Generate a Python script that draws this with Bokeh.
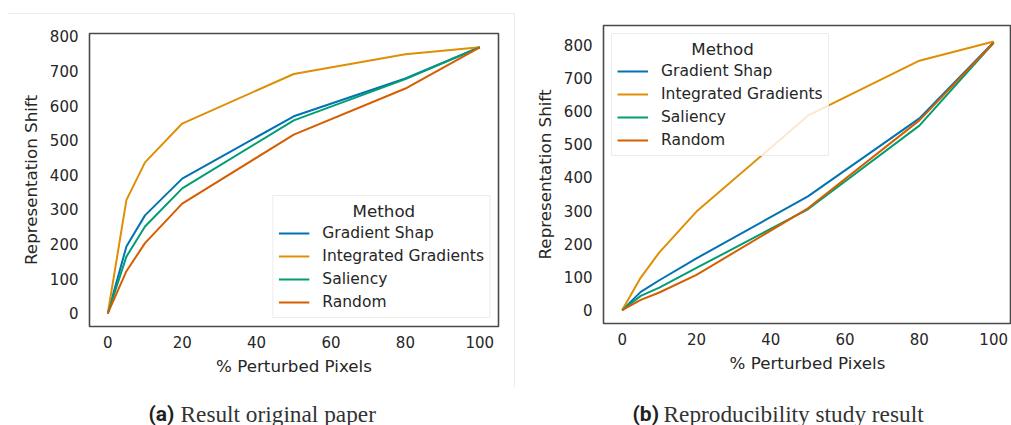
from bokeh.plotting import figure
from bokeh.layouts import row, column
from bokeh.models import Range1d, FixedTicker, Legend, LegendItem, Div
from bokeh.core.properties import value
from bokeh.embed import file_html
from bokeh.resources import INLINE

# ---------------- data ----------------
pct_perturbed = [0, 5, 10, 20, 50, 80, 100]
methods = ["Gradient Shap", "Integrated Gradients", "Saliency", "Random"]

# (a) Result original paper
gs_orig = [0, 193, 283, 389, 569, 678, 768]
ig_orig = [0, 327, 436, 548, 691, 748, 768]
sal_orig = [0, 164, 251, 361, 557, 676, 768]
rnd_orig = [0, 122, 203, 317, 516, 649, 768]

# (b) Reproducibility study result
gs_repro = [0, 55, 90, 156, 343, 578, 808]
ig_repro = [0, 98, 174, 297, 586, 752, 810]
sal_repro = [0, 43, 68, 127, 304, 556, 806]
rnd_repro = [0, 31, 53, 106, 307, 572, 806]

x_ticks = [0, 20, 40, 60, 80, 100]
y_ticks = [0, 100, 200, 300, 400, 500, 600, 700, 800]

legend_title = "Method"
captions_tag = ["(a)", "(b)"]
captions_text = ["Result original paper", "Reproducibility study result"]

# ---------------- style ----------------
colors = ["#0173b2", "#de8f05", "#029e73", "#d55e00"]
TXT = "#262626"
FRAME = "#4a4a4a"
FONT = "DejaVu Sans"
DIVIDER = "#ececec"
TITLE_PAD = "\u00a0" * 14   # centres the legend title over the entries


def make_fig(width, height, mb_left, mb_right, mb_top, mb_bottom, xr, yr, series,
             legend_loc):
    p = figure(width=width, height=height, output_backend="svg", toolbar_location=None,
               x_range=Range1d(*xr), y_range=Range1d(*yr), tools="")
    p.min_border_left = mb_left
    p.min_border_right = mb_right
    p.min_border_top = mb_top
    p.min_border_bottom = mb_bottom
    p.background_fill_color = "white"
    p.border_fill_color = "white"
    p.xgrid.visible = False
    p.ygrid.visible = False
    p.outline_line_color = FRAME
    p.outline_line_width = 1.6

    p.xaxis.ticker = FixedTicker(ticks=x_ticks)
    p.yaxis.ticker = FixedTicker(ticks=y_ticks)
    p.xaxis.axis_label = "% Perturbed Pixels"
    p.yaxis.axis_label = "Representation Shift"
    for ax, st, lst in ((p.xaxis, 9, 5), (p.yaxis, 11, 6)):
        ax.axis_line_color = None
        ax.major_tick_line_color = None
        ax.minor_tick_line_color = None
        ax.major_tick_out = 0
        ax.major_tick_in = 0
        ax.major_label_standoff = st
        ax.axis_label_standoff = lst
        ax.major_label_text_font = FONT
        ax.major_label_text_font_size = "15px"
        ax.major_label_text_color = TXT
        ax.axis_label_text_font = FONT
        ax.axis_label_text_font_size = "16.7px"
        ax.axis_label_text_font_style = "normal"
        ax.axis_label_text_color = TXT

    items = []
    for name, ys, c in zip(methods, series, colors):
        r = p.line(pct_perturbed, ys, line_color=c, line_width=2)
        items.append(LegendItem(label=name, renderers=[r]))

    leg = Legend(items=items, location=legend_loc, title=TITLE_PAD + legend_title)
    leg.margin = 8
    leg.padding = 5
    leg.spacing = 3
    leg.label_height = 20
    leg.glyph_height = 20
    leg.glyph_width = 31
    leg.label_standoff = 13
    leg.title_standoff = 2
    leg.label_text_font = FONT
    leg.label_text_font_size = "15.5px"
    leg.label_text_color = TXT
    leg.title_text_font = FONT
    leg.title_text_font_size = "16.7px"
    leg.title_text_font_style = "normal"
    leg.title_text_color = TXT
    leg.border_line_color = "#d9d9d9"
    leg.border_line_width = 1
    leg.background_fill_color = "white"
    leg.background_fill_alpha = 0.8
    p.add_layout(leg)
    return p


# top faint rule of panel (a)
head = Div(text="", width=506, height=1, margin=(13, 0, 0, 8),
           styles={"background-color": DIVIDER})
p1 = make_fig(514, 381, 89, 16, 19, 69, (-4.92, 105.03), (-37.6, 807.8),
              [gs_orig, ig_orig, sal_orig, rnd_orig], "bottom_right")
# faint vertical divider between the panels
vdiv = Div(text="", width=1, height=374, margin=(13, 0, 8, 0),
           styles={"background-color": DIVIDER})
p2 = make_fig(496, 395, 88, 0, 25, 72, (-5.03, 104.8), (-40.4, 858.0),
              [gs_repro, ig_repro, sal_repro, rnd_repro], "top_left")

# caption strip
cap = figure(width=1011, height=30, output_backend="svg", toolbar_location=None,
             x_axis_location=None, y_axis_location=None, tools="",
             x_range=Range1d(0, 1011), y_range=Range1d(0, 30))
cap.min_border_left = 0
cap.min_border_right = 0
cap.min_border_top = 0
cap.min_border_bottom = 0
cap.outline_line_color = None
cap.grid.visible = False
cap.background_fill_color = "white"
cap.border_fill_color = "white"
cap.text(x=[148, 632], y=[12, 12], text=captions_tag, text_font=value("Roboto"),
         text_font_style="bold", text_font_size="21px", text_color="#1f1f1f",
         text_baseline="alphabetic", text_align="left")
cap.text(x=[180, 663], y=[12, 12], text=captions_text, text_font=value("Liberation Serif"),
         text_font_size="23.3px", text_color="#333333",
         text_baseline="alphabetic", text_align="left")

layout = column(row(column(head, p1, spacing=0), vdiv, p2, spacing=0), cap, spacing=0)
open("out.html", "w").write(file_html(layout, INLINE))
